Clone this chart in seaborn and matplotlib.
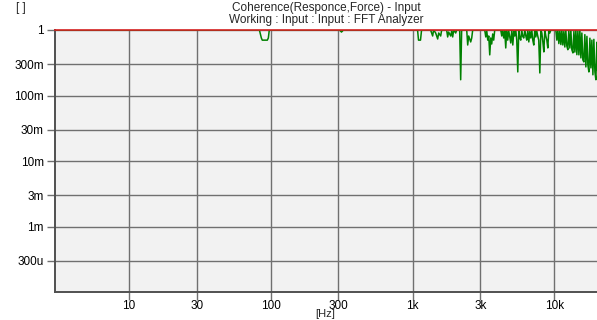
import matplotlib
matplotlib.use("Agg")
import matplotlib.pyplot as plt
from matplotlib.ticker import FixedLocator, FixedFormatter, NullLocator
import numpy as np
import pandas as pd
import seaborn as sns

# Coherence spectrum, low band (up to ~1 kHz)
freq_lo = [3.0, 83, 85.7, 87, 94.4, 96, 97.5, 305, 315, 325, 1084]
coh_lo = [1.0, 1.0, 0.755, 0.70, 0.70, 0.755, 1.0, 1.0, 0.93, 1.0, 1.0]

# Coherence spectrum, 1 kHz - 5 kHz
freq_mid = [1101, 1137, 1157, 1340, 1385, 1407, 1455, 1503, 1528, 1578, 1604,
            1739, 1768, 1796, 1857, 1888, 1918, 1950, 2014, 2047, 2149, 2184,
            2219, 2409, 2448, 2487, 2570, 2613, 2655, 3229, 3283, 3337, 3391,
            3446, 3502, 3559, 3616, 3675, 3734, 3798, 4188]
coh_mid = [0.70, 0.70, 1.0, 1.0, 0.81, 1.0, 0.90, 0.729, 0.90, 0.81, 1.0,
           1.0, 0.783, 0.93, 0.81, 0.965, 0.783, 1.0, 0.90, 1.0, 1.0, 0.174,
           1.0, 1.0, 0.59, 0.81, 0.657, 0.755, 1.0, 1.0, 0.783, 0.965, 0.70,
           0.81, 0.417, 0.755, 0.612, 0.87, 0.70, 1.0, 1.0]

# Coherence spectrum, 4 kHz - 10 kHz
freq_hi = [4256, 4325, 4395, 4466, 4542, 4614, 4690, 4764, 4849, 4928, 5012,
           5093, 5174, 5260, 5346, 5432, 5522, 5610, 5702, 5796, 5888, 5984,
           6084, 6194, 6295, 6392, 6501, 6607, 6714, 6823, 6934, 7047, 7161,
           7278, 7396, 7516, 7638, 7762, 7900, 8035, 8166, 8299, 8433, 8570,
           8710, 8851, 8995, 9141, 9290, 9441, 9594, 10250]
coh_hi = [0.81, 1.0, 0.755, 0.97, 0.532, 1.0, 0.70, 0.98, 0.783, 0.634, 1.0,
          0.59, 0.95, 0.81, 1.0, 0.70, 0.229, 1.0, 0.755, 0.70, 1.0, 0.80,
          0.755, 1.0, 0.81, 0.70, 1.0, 0.657, 0.95, 0.755, 1.0, 0.70, 0.59,
          1.0, 0.783, 0.97, 0.81, 0.70, 0.221, 1.0, 0.90, 0.657, 0.463, 1.0,
          0.81, 0.70, 0.532, 1.0, 0.90, 1.0, 1.0, 1.0]

# Coherence spectrum, 10 kHz - 20 kHz
freq_top = [10420, 10590, 10760, 10940, 11120, 11300, 11480, 11670, 11860,
            12050, 12250, 12450, 12650, 12870, 13080, 13290, 13520, 13740,
            13960, 14190, 14420, 14660, 14900, 15140, 15390, 15640, 15890,
            16150, 16420, 16690, 16980, 17240, 17530, 17820, 18110, 18400,
            18710, 19010, 19330, 19640, 19960, 20000]
coh_top = [0.70, 1.0, 0.62, 0.97, 0.60, 1.0, 0.59, 0.95, 0.55, 1.0, 0.57,
           0.50, 0.98, 0.53, 1.0, 0.50, 0.447, 0.95, 0.46, 1.0, 0.42, 0.96,
           0.417, 1.0, 0.375, 0.90, 0.35, 0.326, 0.85, 0.273, 0.80, 0.293,
           0.229, 0.75, 0.264, 0.70, 0.207, 0.72, 0.229, 0.174, 0.65, 0.246]

x_ticks = [10, 30, 100, 300, 1000, 3000, 10000]
x_labels = ["10", "30", "100", "300", "1k", "3k", "10k"]
y_ticks = [1, 0.3, 0.1, 0.03, 0.01, 0.003, 0.001, 0.0003]
y_labels = ["1", "300m", "100m", "30m", "10m", "3m", "1m", "300u"]

df = pd.DataFrame({
    "freq": freq_lo + freq_mid + freq_hi + freq_top,
    "coh": coh_lo + coh_mid + coh_hi + coh_top,
})

sns.set_style("white")
plt.rcParams["font.family"] = ["Liberation Sans", "DejaVu Sans"]

fig = plt.figure(figsize=(5.97, 3.20), dpi=100)
ax = fig.add_axes([55 / 597, 1 - 292 / 320, 542 / 597, 262 / 320])
ax.set_facecolor("#f2f2f2")

sns.lineplot(data=df, x="freq", y="coh", ax=ax, color="#008000",
             linewidth=1.1, estimator=None, sort=False, zorder=2)

ax.set_xscale("log")
ax.set_yscale("log")
ax.set_xlim(3, 20000)
ax.set_ylim(1e-4, 1)

ax.xaxis.set_major_locator(FixedLocator(x_ticks))
ax.xaxis.set_major_formatter(FixedFormatter(x_labels))
ax.xaxis.set_minor_locator(NullLocator())
ax.yaxis.set_major_locator(FixedLocator(y_ticks))
ax.yaxis.set_major_formatter(FixedFormatter(y_labels))
ax.yaxis.set_minor_locator(NullLocator())

ax.grid(True, which="major", color="#707070", linewidth=1.0, zorder=1)
ax.set_axisbelow(True)
ax.tick_params(axis="both", which="major", length=6, width=1.0,
               color="#707070", labelsize=8.5, labelcolor="black",
               direction="out", bottom=True, left=True)
ax.tick_params(axis="x", pad=0)
ax.tick_params(axis="y", pad=2)

for side in ("left", "bottom"):
    ax.spines[side].set_color("#505050")
    ax.spines[side].set_linewidth(1.4)
ax.spines["right"].set_visible(False)
ax.spines["top"].set_color("#d42020")
ax.spines["top"].set_linewidth(1.2)
ax.spines["top"].set_zorder(5)

ax.set_xlabel("")
ax.set_ylabel("")

fig.text(326 / 597, 1 - 8 / 320, "Coherence(Responce,Force) - Input",
         ha="center", va="center", fontsize=8.5)
fig.text(326 / 597, 1 - 20 / 320, "Working : Input : Input : FFT Analyzer",
         ha="center", va="center", fontsize=8.5)
fig.text(21 / 597, 1 - 8 / 320, "[ ]", ha="center", va="center", fontsize=8.5)
fig.text(325 / 597, 1 - 314 / 320, "[Hz]", ha="center", va="center",
         fontsize=8)

fig.savefig("out.png", dpi=100)
